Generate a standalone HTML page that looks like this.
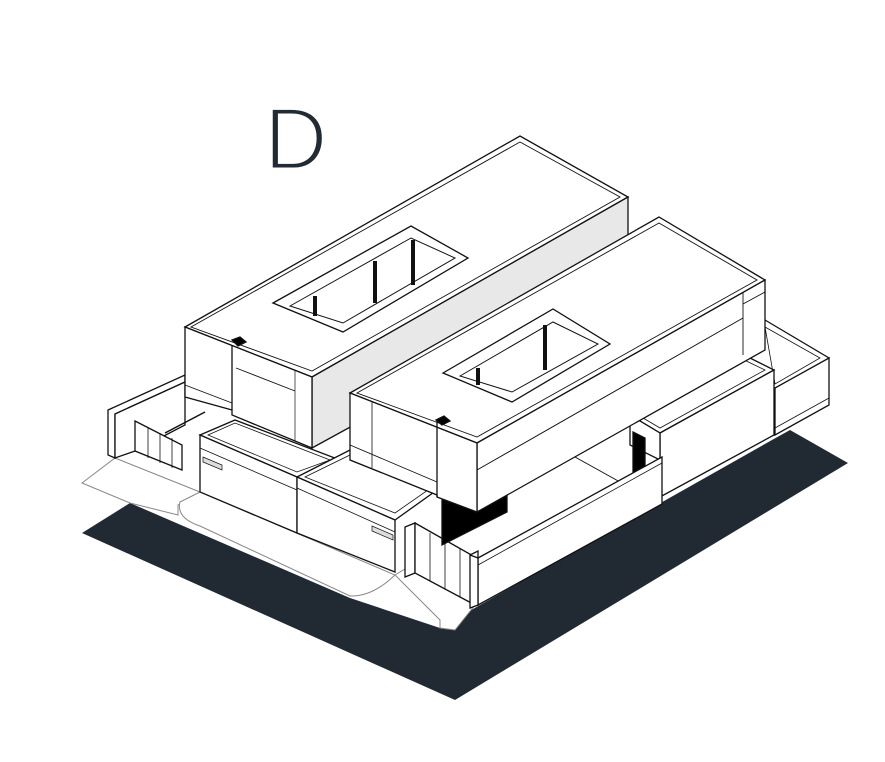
<!DOCTYPE html>
<html><head><meta charset="utf-8"><style>
html,body{margin:0;padding:0;background:#fff;width:885px;height:762px;overflow:hidden}
svg{display:block}
</style></head><body>
<svg width="885" height="762" viewBox="0 0 885 762" xmlns="http://www.w3.org/2000/svg">
<text x="264" y="169" font-family="Liberation Sans, sans-serif" font-size="88" fill="#222b34" font-weight="normal" stroke="#fff" stroke-width="3" paint-order="normal">D</text>

<!-- ground -->
<polygon points="82,533 130,503 350,598 440,628 480,605 772,440 790,430 848,463 455,700" fill="#212a33"/>
<g fill="#fff" stroke="#888" stroke-width="1">
<polygon points="82,483 115,458 200,492 178,505 178,515 130,503"/>
<path d="M200,492 L180,502 Q176,518 200,526 L350,596 Q372,597 395,575 Z"/>
<polygon points="395,575 410,566 475,605 455,630 440,628 440,620"/>
</g>

<g stroke="#111" stroke-width="1.3" fill="#fff" stroke-linejoin="miter">
<!-- left fence -->
<polygon points="108,410 185,375 185,382 115,414 115,458 108,455"/>
<polygon points="115,414 185,382 185,425 135,451 115,458"/>
<polygon points="135,421 182,445 182,470 135,451" fill="#fff"/>
<line x1="148" y1="427" x2="148" y2="458" stroke-width="0.8"/>
<line x1="160" y1="433" x2="160" y2="463" stroke-width="0.8"/>
<line x1="172" y1="438" x2="172" y2="468" stroke-width="0.8"/>
<line x1="165" y1="433" x2="205" y2="412" stroke-width="1.5"/>

<!-- building 1 -->
<polygon points="185,327 520,136 628,197 312,377"/>
<polygon points="191,327 520,142 620,197 312,371" fill="none" stroke-width="0.9"/>
<polygon points="312,377 628,197 628,275 312,448" fill="#e8e8e8"/>
<polygon points="185,327 312,377 312,448 232,415 232,410 185,397"/>
<line x1="232" y1="345" x2="232" y2="410"/>
<line x1="185" y1="385" x2="232" y2="403" stroke-width="0.9"/>
<line x1="236" y1="368" x2="295" y2="391" stroke-width="0.9"/>
<line x1="295" y1="370" x2="295" y2="441" stroke-width="0.7"/>
<polygon points="232,340 240,337 246,342 238,346" fill="#000"/>
<!-- skylight 1 -->
<polygon points="273,303 411,226 468,258 343,332"/>
<polygon points="290,306 411,238 455,258 343,323" fill="#fff" stroke-width="1"/>
<line x1="315" y1="296" x2="315" y2="316" stroke-width="4"/>
<line x1="375" y1="261" x2="375" y2="303" stroke-width="4"/>
<line x1="413" y1="240" x2="413" y2="285" stroke-width="4"/>

<!-- left low block A -->
<polygon points="200,435 235,420 340,460 297,477"/>
<polygon points="208,435 235,423 330,460 297,472" fill="none" stroke-width="0.8"/>
<polygon points="200,435 297,477 297,533 200,492"/>
<line x1="200" y1="448" x2="297" y2="490" stroke-width="0.8"/>
<polygon points="203,457 222,465 222,470 203,462" fill="#ddd" stroke-width="0.7"/>
<!-- block B -->
<polygon points="297,477 350,450 437,490 395,520"/>
<polygon points="305,477 350,455 428,490 395,513" fill="none" stroke-width="0.8"/>
<polygon points="297,477 395,520 395,572 297,533"/>
<line x1="297" y1="488" x2="395" y2="532" stroke-width="0.8"/>
<polygon points="372,526 393,535 393,540 372,531" fill="#ddd" stroke-width="0.7"/>
<!-- gate right -->
<polygon points="405,527 415,523 415,573 405,577"/>
<polygon points="415,523 475,557 475,605 415,573"/>
<line x1="430" y1="533" x2="430" y2="581" stroke-width="0.8"/>
<line x1="445" y1="541" x2="445" y2="589" stroke-width="0.8"/>
<line x1="460" y1="549" x2="460" y2="597" stroke-width="0.8"/>

<!-- courtyard dark -->
<polygon points="442,500 507,495 507,512 442,545" fill="#000"/>
<line x1="575" y1="457" x2="620" y2="482" stroke-width="1"/>

<!-- lower right wing -->
<polygon points="740,325 765,320 829,358 775,390 740,370" fill="#fff"/>
<polygon points="765,327 820,358 775,384" fill="none" stroke-width="0.8"/>
<polygon points="775,388 829,358 829,405 775,435"/>
<line x1="775" y1="428" x2="829" y2="398" stroke-width="0.8"/>
<!-- middle block -->
<polygon points="630,415 740,353 774,370 660,433"/>
<polygon points="638,415 740,358 765,370 660,428" fill="none" stroke-width="0.8"/>
<polygon points="660,433 774,370 774,435 660,497"/>
<polygon points="630,415 660,433 660,460 630,445"/>
<polygon points="633,432 645,438 645,478 633,472" fill="#000"/>

<!-- building 2 -->
<polygon points="350,393 659,217 765,280 477,443"/>
<polygon points="357,393 659,223 757,280 477,437" fill="none" stroke-width="0.9"/>
<polygon points="477,443 765,280 765,350 477,512"/>
<line x1="477" y1="470" x2="743" y2="318" stroke-width="1"/>
<line x1="743" y1="292" x2="743" y2="355" stroke-width="0.9"/>
<line x1="743" y1="304" x2="765" y2="292" stroke-width="0.9"/>
<polygon points="350,393 477,443 477,512 437,497 437,495 350,460"/>
<line x1="372" y1="402" x2="372" y2="468" stroke-width="0.8"/>
<line x1="350" y1="445" x2="437" y2="482" stroke-width="0.9"/>
<line x1="437" y1="420" x2="437" y2="497"/>
<polygon points="436,420 444,416 450,421 442,425" fill="#000"/>
<!-- skylight 2 -->
<polygon points="443,373 553,309 610,344 512,402"/>
<polygon points="460,376 553,322 598,344 512,392" fill="#fff" stroke-width="1"/>
<line x1="478" y1="368" x2="478" y2="385" stroke-width="4"/>
<line x1="545" y1="325" x2="545" y2="370" stroke-width="4"/>

<!-- front wall -->
<polygon points="478,558 662,457 662,504 478,605"/>
<polygon points="470,555 478,551 478,605 470,608" fill="#fff"/>
<line x1="478" y1="565" x2="662" y2="463" stroke-width="0.8"/>
<line x1="478" y1="558" x2="470" y2="555"/>
</g>
</svg>
</body></html>
